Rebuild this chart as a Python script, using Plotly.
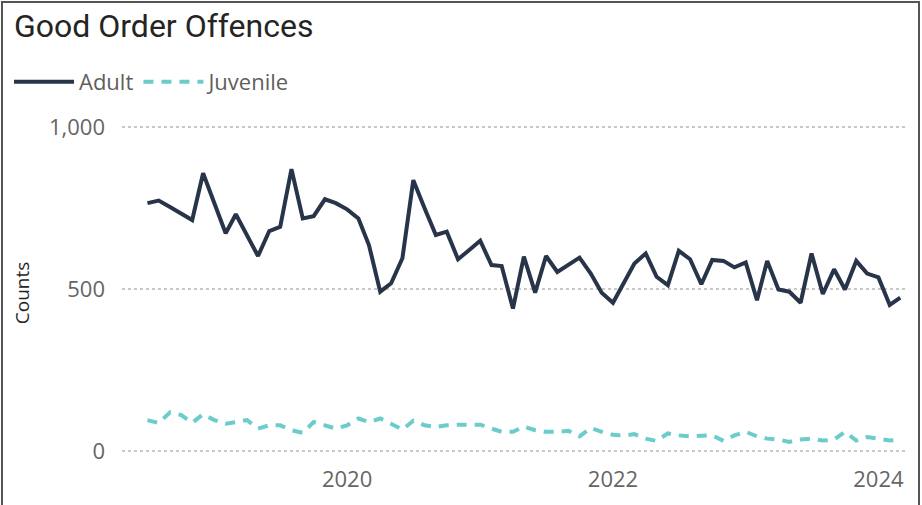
import pandas as pd
import plotly.graph_objects as go

months = pd.date_range("2018-07-01", periods=69, freq="MS")

adult = [765, 773, 753, 733, 713, 857, 765, 672, 731, 667, 602, 679, 692, 870, 718, 725,
         777, 765, 746, 718, 636, 492, 518, 595, 836, 749, 667, 677, 592, 620, 649, 574,
         571, 440, 600, 489, 602, 553, 575, 597, 548, 489, 458, 519, 579, 610, 538, 512,
         618, 592, 515, 590, 587, 567, 582, 466, 587, 499, 492, 458, 610, 485, 561, 499,
         587, 548, 536, 451, 474]

juvenile = [96, 87, 120, 112, 88, 114, 96, 85, 90, 96, 70, 80, 80, 65, 57, 90,
            80, 70, 80, 101, 90, 101, 85, 67, 94, 80, 75, 80, 82, 82, 82, 70,
            60, 60, 76, 65, 60, 60, 63, 46, 72, 60, 51, 48, 53, 39, 32, 55,
            49, 46, 46, 49, 32, 49, 60, 46, 39, 36, 29, 36, 39, 33, 36, 60,
            33, 44, 39, 33, 36]

year_ticks = ["2020-01-01", "2022-01-01", "2024-01-01"]
year_labels = ["2020", "2022", "2024"]

W, H = 922, 505
L, R, T, B = 122, 17, 125, 44
pw, ph = W - L - R, H - T - B


def px(x):
    return (x - L) / pw


def py(y):
    return (H - B - y) / ph


fig = go.Figure()
fig.add_trace(go.Scatter(x=months, y=adult, name="Adult", mode="lines",
                         line=dict(color="#283449", width=4)))
fig.add_trace(go.Scatter(x=months, y=juvenile, name="Juvenile", mode="lines",
                         line=dict(color="#6ACDCB", width=4, dash="10px,8px")))

fig.update_layout(
    width=W, height=H,
    margin=dict(l=L, r=R, t=T, b=B, autoexpand=False),
    plot_bgcolor="white", paper_bgcolor="white",
    font=dict(family="Open Sans", color="#666666"),
    title=dict(text="Good Order Offences", xref="container", yref="container",
               x=14 / W, y=1 - 26 / H, xanchor="left", yanchor="middle",
               font=dict(family="Roboto", size=32, color="#252423")),
    legend=dict(orientation="h", xref="container", yref="container",
                x=9 / W, y=1 - 82 / H, xanchor="left", yanchor="middle",
                font=dict(size=22, color="#605E5C"), itemwidth=60,
                bgcolor="rgba(0,0,0,0)", traceorder="normal"),
    xaxis=dict(range=["2018-04-22", "2024-03-14"], tickvals=year_ticks, ticktext=year_labels,
               showgrid=False, zeroline=False, showline=False, ticks="",
               ticklabelstandoff=3,
               automargin=False, tickfont=dict(size=22, color="#666666")),
    yaxis=dict(range=[-30, 1006], tickvals=[0, 500, 1000], tickformat=",",
               showgrid=True, gridcolor="#C8C8C8", griddash="dot", gridwidth=1.5,
               zeroline=False, showline=False, ticks="", ticklabelstandoff=16,
               automargin=False, tickfont=dict(size=22, color="#666666")),
)
fig.update_yaxes(title=dict(text="Counts", standoff=14,
                            font=dict(size=19, color="#252423")))

# visual border
fig.add_shape(type="rect", xref="paper", yref="paper",
              x0=px(2), x1=px(919), y0=py(520), y1=py(2),
              line=dict(color="#555555", width=2), layer="above")

fig.write_html("out.html", config={"displayModeBar": False},
               post_script="document.body.style.margin='0';")
